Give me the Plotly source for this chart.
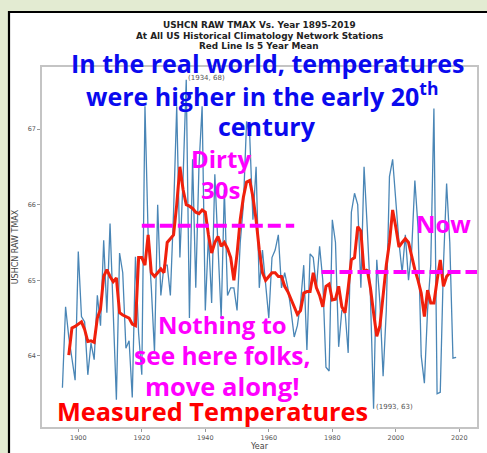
import plotly.graph_objects as go

# ---------------- data ----------------
years = list(range(1895, 2020))
tmax = [
    63.58, 64.65, 64.25, 63.95, 63.68, 65.38, 64.52, 64.45, 63.75, 64.17,  # 1895-1904
    63.95, 64.80, 64.40, 65.53, 64.57, 65.75, 64.60, 63.42, 65.36, 65.10,  # 1905-1914
    64.10, 64.20, 63.45, 65.31, 64.30, 63.75, 67.30, 65.60, 64.90, 64.05,  # 1915-1924
    66.00, 64.80, 65.20, 65.20, 64.80, 65.90, 67.30, 65.30, 66.35, 67.65,  # 1925-1934
    64.50, 66.60, 64.90, 66.50, 67.30, 64.60, 65.60, 64.70, 66.40, 65.40,  # 1935-1944
    64.50, 66.20, 64.80, 64.90, 64.90, 64.60, 65.50, 66.00, 67.10, 66.90,  # 1945-1954
    65.80, 66.50, 64.90, 65.40, 64.90, 64.50, 65.30, 65.40, 65.60, 64.90,  # 1955-1964
    65.10, 64.90, 64.60, 64.25, 64.40, 64.70, 65.20, 64.08, 65.35, 65.30,  # 1965-1974
    64.90, 65.45, 65.00, 63.85, 63.80, 65.80, 65.50, 64.12, 64.60, 64.60,  # 1975-1984
    64.04, 65.90, 66.15, 66.00, 64.90, 66.50, 65.70, 64.80, 63.30, 65.27,  # 1985-1994
    64.70, 63.73, 64.60, 66.37, 66.60, 66.00, 65.50, 65.10, 65.60, 65.00,  # 1995-2004
    65.40, 66.32, 65.70, 64.00, 63.64, 64.60, 65.20, 67.27, 63.50, 63.52,  # 2005-2014
    65.20, 66.28, 65.50, 63.97, 63.98,                                      # 2015-2019
]
mean_years = list(range(1897, 2018))
mean5 = [
    64.01, 64.37, 64.39, 64.42, 64.45, 64.35, 64.19, 64.20, 64.18, 64.50,  # 1897-1906
    64.62, 65.05, 65.14, 65.05, 64.98, 65.03, 64.57, 64.54, 64.52, 64.50,  # 1907-1916
    64.42, 64.40, 65.30, 65.30, 65.20, 65.60, 65.10, 65.05, 65.10, 65.15,  # 1917-1926
    65.10, 65.50, 65.55, 65.60, 66.00, 66.50, 66.20, 66.00, 65.98, 65.95,  # 1927-1936
    65.90, 65.88, 65.93, 65.90, 65.60, 65.36, 65.50, 65.58, 65.45, 65.50,  # 1937-1946
    65.42, 65.30, 65.00, 65.35, 65.80, 66.10, 66.30, 66.32, 66.10, 65.80,  # 1947-1956
    65.40, 65.10, 65.00, 65.05, 65.10, 65.10, 65.05, 65.05, 64.92, 64.85,  # 1957-1966
    64.74, 64.65, 64.55, 64.60, 64.83, 64.85, 64.85, 65.10, 64.90, 64.80,  # 1967-1976
    64.65, 64.92, 64.95, 64.74, 64.75, 64.92, 64.65, 64.57, 64.90, 65.27,  # 1977-1986
    65.30, 65.71, 65.65, 65.10, 65.14, 64.90, 64.57, 64.26, 64.40, 64.83,  # 1987-1996
    65.20, 65.50, 65.93, 65.70, 65.44, 65.50, 65.55, 65.50, 65.30, 65.14,  # 1997-2006
    65.00, 64.83, 64.52, 64.87, 64.70, 64.70, 65.00, 65.27, 64.92, 65.05,  # 2007-2016
    65.10,                                                                  # 2017
]
x_ticks = [1900, 1920, 1940, 1960, 1980, 2000, 2020]
y_ticks = [64, 65, 66, 67]
title_lines = ["USHCN RAW TMAX Vs. Year 1895-2019",
               "At All US Historical Climatology Network Stations",
               "Red Line Is 5 Year Mean"]
dirty30s_level = 65.72
dirty30s_span = [1920, 1968]
now_level = 65.11
now_span = [1976.6, 2025.6]
peak_point = (1934, 67.6, "(1934, 68)")
low_point = (1993, 63.25, "(1993, 63)")

# ---------------- layout helpers ----------------
W, H = 487, 453
L, R, T, B = 42, 477, 67, 427


def px(xp):
    return (xp - L) / (R - L)


def py(yp):
    return (B - yp) / (B - T)


fig = go.Figure()
fig.add_trace(go.Scatter(x=years, y=tmax, mode="lines",
                         line=dict(color="#4a86b6", width=1.3),
                         showlegend=False, hoverinfo="skip"))
fig.add_trace(go.Scatter(x=mean_years, y=mean5, mode="lines",
                         line=dict(color="#f0200c", width=3),
                         showlegend=False, hoverinfo="skip"))
# dashed reference lines
fig.add_trace(go.Scatter(x=dirty30s_span, y=[dirty30s_level] * 2, mode="lines",
                         line=dict(color="#ff00ff", width=4, dash="13px,5px"),
                         showlegend=False, hoverinfo="skip"))
fig.add_trace(go.Scatter(x=now_span, y=[now_level] * 2, mode="lines",
                         line=dict(color="#ff00ff", width=4, dash="13px,5px"),
                         showlegend=False, hoverinfo="skip"))

shapes = [
    dict(type="rect", xref="paper", yref="paper", layer="below",
         x0=px(9), x1=px(495), y0=py(460), y1=py(12),
         fillcolor="white", line=dict(color="black", width=2.2)),
]

ann = []
# title
for i, t in enumerate(title_lines):
    ann.append(dict(text="<b>" + t + "</b>", xref="paper", yref="paper",
                    x=px(259), y=py(25.5 + 10 * i), xanchor="center", yanchor="middle",
                    showarrow=False,
                    font=dict(family="DejaVu Sans", size=8.9, color="#222")))

BIG = "Open Sans"
DY = -3


def big(text, xc, yc, color, size):
    ann.append(dict(text=text, xref="paper", yref="paper", x=px(xc), y=py(yc + DY),
                    xanchor="center", yanchor="middle", showarrow=False,
                    font=dict(family=BIG, size=size, color=color, weight="bold")))


blue = "#0a0aee"
mag = "#ff00ff"
big("In the real world, temperatures", 267, 66, blue, 25)
big("were higher in the early 20<sup>th</sup>", 262, 98, blue, 25)
big("century", 267, 129, blue, 25)
big("Dirty", 221, 161, mag, 24)
big("30s", 220, 192, mag, 24)
big("Now", 443, 226, mag, 24)
big("Nothing to", 222, 327, mag, 24)
big("see here folks,", 222, 358, mag, 24.5)
big("move along!", 222, 389, mag, 25.5)
big("Measured Temperatures", 212, 414, "#ff0000", 25.3)

# point annotations
for (yr, val, lab) in (peak_point, low_point):
    ann.append(dict(text=lab, x=yr, y=val, xref="x", yref="y",
                    xanchor="left", yanchor="bottom", showarrow=False,
                    font=dict(family="DejaVu Sans", size=7, color="#555")))

fig.update_layout(
    width=W, height=H,
    margin=dict(l=L, r=W - R, t=T, b=H - B),
    paper_bgcolor="#e3ebd2", plot_bgcolor="white",
    shapes=shapes, annotations=ann,
    xaxis=dict(range=[1888.57, 2025.57], tickvals=x_ticks, automargin=False,
               tickfont=dict(family="DejaVu Sans", size=6.5, color="#555"),
               showgrid=False, zeroline=False, showline=True, mirror=True,
               linecolor="#c4c4c4", linewidth=1.5, ticks="outside", ticklen=3,
               tickcolor="#999",
               title=dict(text="Year", font=dict(family="DejaVu Sans", size=8, color="#444"),
                          standoff=2)),
    yaxis=dict(range=[63.06, 67.82], tickvals=y_ticks, automargin=False,
               tickfont=dict(family="DejaVu Sans", size=6.5, color="#555"),
               showgrid=False, zeroline=False, showline=True, mirror=True,
               linecolor="#c4c4c4", linewidth=1.5, ticks="outside", ticklen=3,
               tickcolor="#999",
               title=dict(text="USHCN RAW TMAX", font=dict(family="DejaVu Sans", size=8, color="#444"),
                          standoff=8)),
)

fig.write_html("out.html", config={"displayModeBar": False},
               post_script="document.body.style.margin='0px';document.body.style.overflow='hidden';")
